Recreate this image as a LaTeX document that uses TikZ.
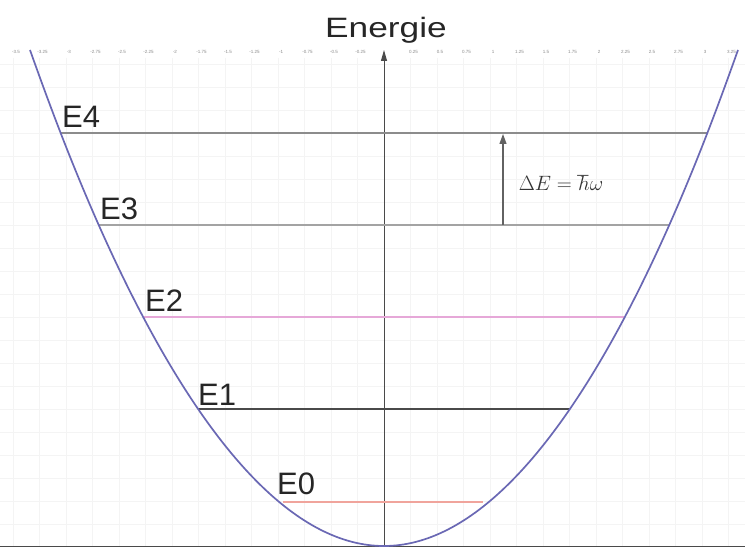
\documentclass[tikz,border=0pt]{standalone}
\usepackage{fontspec}
\setmainfont{Liberation Sans}
\usetikzlibrary{arrows.meta}
\definecolor{parab}{HTML}{6A68B4}
\definecolor{gridc}{HTML}{F4F4F4}
\definecolor{axisc}{HTML}{4A4A4A}
\definecolor{levgray}{HTML}{8C8C8C}
\definecolor{levpink}{HTML}{E6A8D8}
\definecolor{levdark}{HTML}{4A4A4A}
\definecolor{levred}{HTML}{F0A49C}
\definecolor{tickc}{HTML}{8A8A8A}
\tikzset{
  gridline/.style={draw=gridc, line width=0.8pt},
  level/.style={line width=1.3pt},
  elabel/.style={font=\fontsize{31}{33}\selectfont, text=black!85, inner sep=0pt, anchor=base west},
  ticklab/.style={font=\fontsize{4.5}{5}\selectfont, text=tickc, inner sep=0pt},
}
\begin{document}
\begin{tikzpicture}[x=1pt,y=-1pt]
\useasboundingbox[fill=white] (0,0) rectangle (745,548);
% grid
\foreach \k in {-14,...,13}
  \draw[gridline] ({384+26.5*\k},58) -- ({384+26.5*\k},546);
\foreach \yy in {64,87,...,546}
  \draw[gridline] (0,\yy) -- (745,\yy);
% tick labels
\foreach \v/\lab [count=\i] in {-3.5/-3.5,-3.25/-3.25,-3/-3,-2.75/-2.75,-2.5/-2.5,-2.25/-2.25,-2/-2,-1.75/-1.75,-1.5/-1.5,-1.25/-1.25,-1/-1,-0.75/-0.75,-0.5/-0.5,-0.25/-0.25,0.25/0.25,0.5/0.5,0.75/0.75,1/1,1.25/1.25,1.5/1.5,1.75/1.75,2/2,2.25/2.25,2.5/2.5,2.75/2.75,3/3,3.25/3.25}
  \node[ticklab] (tick\i) at ({384+106*\v+3},52) {\lab};
% title
\node[font=\fontsize{28}{30}\selectfont, text=black!85, inner sep=0pt, anchor=base] (title) at (386,38) {\scalebox{1.26}[1]{Energie}};
% bottom axis
\coordinate (bl) at (0,546.5);
\coordinate (br) at (745,546.5);
\draw[axisc, line width=1.2pt] (bl) -- (br);
% vertical axis
\coordinate (ab) at (384,546);
\coordinate (at) at (384,50);
\draw[axisc, line width=1pt, -{Triangle[length=11pt,width=6pt]}] (ab) -- (at);
% levels
\coordinate (e4l) at (61,133);   \coordinate (e4r) at (707,133);
\coordinate (e3l) at (99,225);   \coordinate (e3r) at (669,225);
\coordinate (e2l) at (144,317);  \coordinate (e2r) at (624,317);
\coordinate (e1l) at (198,409);  \coordinate (e1r) at (570,409);
\coordinate (e0l) at (283,502);  \coordinate (e0r) at (483,502);
\draw[level, levgray] (e4l) -- (e4r);
\draw[level, levgray!80] (e3l) -- (e3r);
\draw[level, levpink] (e2l) -- (e2r);
\draw[level, levdark] (e1l) -- (e1r);
\draw[level, levred] (e0l) -- (e0r);
% parabola
\draw[parab, line width=1.7pt] (30,50) parabola bend (384,546) (738,50);
% labels
\node[elabel] (E4) at (62,128) {E4};
\node[elabel] (E3) at (100,220) {E3};
\node[elabel] (E2) at (145,312) {E2};
\node[elabel] (E1) at (198,405) {E1};
\node[elabel] (E0) at (277,494) {E0};
% Delta E arrow
\coordinate (da) at (503,225);
\coordinate (db) at (503,134);
\draw[levgray!70!black, line width=1.1pt, -{Triangle[length=10pt,width=7pt]}] (da) -- (db);
\node[font=\fontsize{20}{22}\selectfont, text=black!80, inner sep=0pt] (dE) at (561,183) {$\Delta E = \hbar\omega$};
\end{tikzpicture}
\end{document}
